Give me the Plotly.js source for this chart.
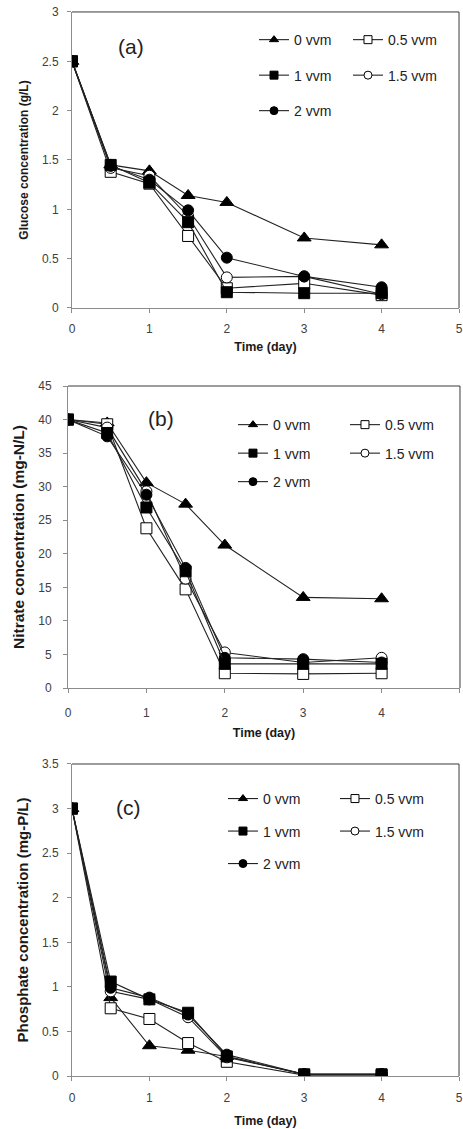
<!DOCTYPE html>
<html>
<head>
<meta charset="utf-8">
<script src="https://cdn.plot.ly/plotly-3.0.1.min.js"></script>
<style>html,body{margin:0;padding:0;background:#fff}#chart{width:463px;height:1129px}</style>
</head>
<body>
<div id="chart"></div>
<script>
// ---------- data ----------
const days = [0, 0.5, 1, 1.5, 2, 3, 4];
const seriesNames = ['0 vvm', '0.5 vvm', '1 vvm', '1.5 vvm', '2 vvm'];
const xTicks = [0, 1, 2, 3, 4, 5];

// (a) glucose, g/L
const glucose0 = [2.5, 1.45, 1.39, 1.14, 1.07, 0.71, 0.64];
const glucose05 = [2.5, 1.38, 1.26, 0.73, 0.20, 0.25, 0.13];
const glucose1 = [2.5, 1.45, 1.27, 0.87, 0.16, 0.15, 0.15];
const glucose15 = [2.5, 1.42, 1.34, 0.93, 0.31, 0.32, 0.14];
const glucose2 = [2.5, 1.44, 1.30, 0.99, 0.51, 0.32, 0.21];

// (b) nitrate, mg-N/L
const nitrate0 = [40, 39.5, 30.6, 27.4, 21.3, 13.5, 13.3];
const nitrate05 = [40, 39.3, 23.8, 14.7, 2.2, 2.1, 2.2];
const nitrate1 = [40, 38.0, 26.9, 17.4, 3.6, 3.6, 3.6];
const nitrate15 = [40, 38.8, 29.3, 16.3, 5.3, 3.8, 4.5];
const nitrate2 = [40, 37.5, 28.8, 17.9, 4.5, 4.3, 3.8];

// (c) phosphate, mg-P/L
const phosphate0 = [3.0, 0.88, 0.34, 0.29, 0.22, 0.02, 0.02];
const phosphate05 = [3.0, 0.76, 0.64, 0.37, 0.16, 0.01, 0.01];
const phosphate1 = [3.0, 1.06, 0.86, 0.71, 0.22, 0.02, 0.02];
const phosphate15 = [3.0, 0.95, 0.86, 0.66, 0.21, 0.02, 0.02];
const phosphate2 = [3.0, 0.99, 0.88, 0.69, 0.24, 0.02, 0.02];

// ---------- styles ----------
const markerStyles = [
  {symbol: 'triangle-up', color: '#000', size: 12},
  {symbol: 'square', color: '#fff', size: 11},
  {symbol: 'square', color: '#000', size: 11},
  {symbol: 'circle', color: '#fff', size: 11},
  {symbol: 'circle', color: '#000', size: 11}
];
const lineColor = '#222';
// drawing order of the series (the filled squares sit on top in the reference)
const drawOrder = [0, 1, 3, 4, 2];

const panels = [
  {x: 'x', y: 'y', data: [glucose0, glucose05, glucose1, glucose15, glucose2], legends: ['legend', 'legend2']},
  {x: 'x2', y: 'y2', data: [nitrate0, nitrate05, nitrate1, nitrate15, nitrate2], legends: ['legend3', 'legend4']},
  {x: 'x3', y: 'y3', data: [phosphate0, phosphate05, phosphate1, phosphate15, phosphate2], legends: ['legend5', 'legend6']}
];
// which legend column each series goes into (0: left column, 1: right column)
const legendColumn = [0, 1, 0, 1, 0];

const traces = [];
panels.forEach((p, pi) => {
  drawOrder.forEach((si) => {
    const vals = p.data[si];
    const ms = markerStyles[si];
    traces.push({
      type: 'scatter', mode: 'lines+markers',
      x: days, y: vals, xaxis: p.x, yaxis: p.y,
      name: seriesNames[si], showlegend: false,
      line: {color: lineColor, width: 1.1},
      marker: {symbol: ms.symbol, color: ms.color, size: ms.size, line: {color: '#000', width: 1}},
      hoverinfo: 'x+y+name'
    });
  });
  // legend entries (smaller markers like the reference key)
  seriesNames.forEach((nm, si) => {
    const ms = markerStyles[si];
    traces.push({
      type: 'scatter', mode: 'lines+markers',
      x: [null], y: [null], xaxis: p.x, yaxis: p.y,
      name: nm, showlegend: true,
      legend: p.legends[legendColumn[si]],
      legendgroup: 'p' + pi + 's' + si,
      line: {color: lineColor, width: 1.1},
      marker: {symbol: ms.symbol, color: ms.color, size: 8, line: {color: '#000', width: 1}},
      hoverinfo: 'skip'
    });
  });
});

const tickFont = {family: 'Liberation Sans, Arial, sans-serif', size: 12, color: '#404040'};
const titleFont = {family: 'Liberation Sans, Arial, sans-serif', size: 12.5, color: '#1a1a1a', weight: 'bold'};
const legendFont = {family: 'Liberation Sans, Arial, sans-serif', size: 14, color: '#222'};

function xAxis(domain, anchor, labelStandoff, titleStandoff) {
  return {
    domain: domain, anchor: anchor, range: [0, 5], tickvals: xTicks, ticktext: xTicks.map(String),
    showgrid: false, zeroline: false, showline: true, linecolor: '#8c8c8c', linewidth: 1,
    ticks: 'outside', ticklen: 4, tickcolor: '#8c8c8c', tickfont: tickFont, ticklabelstandoff: labelStandoff,
    title: {text: 'Time (day)', font: titleFont, standoff: titleStandoff}, fixedrange: true
  };
}
function yAxis(domain, anchor, range, dtick, title, tsize, labelStandoff, titleStandoff) {
  return {
    domain: domain, anchor: anchor, range: range, dtick: dtick, tick0: 0,
    showgrid: false, zeroline: false, showline: true, linecolor: '#8c8c8c', linewidth: 1,
    ticks: 'outside', ticklen: 4, tickcolor: '#8c8c8c', tickfont: tickFont, ticklabelstandoff: labelStandoff,
    title: {text: title, font: Object.assign({}, titleFont, {size: tsize}), standoff: titleStandoff}, fixedrange: true
  };
}

function border(xr, yr) {
  return [
    {type: 'line', xref: xr + ' domain', yref: yr + ' domain', x0: 0, x1: 1, y0: 1, y1: 1, line: {color: '#3a3a3a', width: 1}},
    {type: 'line', xref: xr + ' domain', yref: yr + ' domain', x0: 1, x1: 1, y0: 0, y1: 1, line: {color: '#3a3a3a', width: 1}}
  ];
}

function legendAt(x, y, gap) {
  return {
    x: x, y: y, xanchor: 'left', yanchor: 'top', xref: 'paper', yref: 'paper',
    orientation: 'v', traceorder: 'grouped', tracegroupgap: gap,
    bgcolor: 'rgba(0,0,0,0)', borderwidth: 0, font: legendFont, itemwidth: 30
  };
}

const labelFont = {family: 'Liberation Sans, Arial, sans-serif', size: 21, color: '#222'};
function panelLabel(text, xr, yr, x, y) {
  return {text: text, xref: xr + ' domain', yref: yr + ' domain', x: x, y: y,
          xanchor: 'center', yanchor: 'middle', showarrow: false, font: labelFont};
}

const layout = {
  width: 463, height: 1129,
  margin: {l: 0, r: 0, t: 0, b: 0},
  paper_bgcolor: '#fff', plot_bgcolor: '#fff',
  showlegend: true,
  xaxis: xAxis([0.1555, 0.9914], 'y', 6, 6),
  yaxis: yAxis([0.7272, 0.9894], 'x', [0, 3], 0.5, 'Glucose concentration (g/L)', 12, 6, 10),
  xaxis2: xAxis([0.1469, 0.9935], 'y2', 10, 8),
  yaxis2: yAxis([0.3906, 0.6581], 'x2', [0, 45], 5, 'Nitrate concentration (mg-N/L)', 15.5, 9, 9),
  xaxis3: xAxis([0.1555, 0.9914], 'y3', 7, 11),
  yaxis3: yAxis([0.0469, 0.3233], 'x3', [0, 3.5], 0.5, 'Phosphate concentration (mg-P/L)', 15, 6, 9),
  legend: legendAt(0.5486, 0.9787, 14.3),
  legend2: legendAt(0.7516, 0.9787, 14.3),
  legend3: legendAt(0.5032, 0.6377, 7.3),
  legend4: legendAt(0.7451, 0.6377, 7.3),
  legend5: legendAt(0.4816, 0.3065, 11.3),
  legend6: legendAt(0.7235, 0.3065, 11.3),
  shapes: [].concat(border('x', 'y'), border('x2', 'y2'), border('x3', 'y3')),
  annotations: [
    panelLabel('(a)', 'x', 'y', 0.152, 0.885),
    panelLabel('(b)', 'x2', 'y2', 0.237, 0.891),
    panelLabel('(c)', 'x3', 'y3', 0.147, 0.862)
  ]
};

Plotly.newPlot('chart', traces, layout, {displayModeBar: false, staticPlot: true});
</script>
</body>
</html>
